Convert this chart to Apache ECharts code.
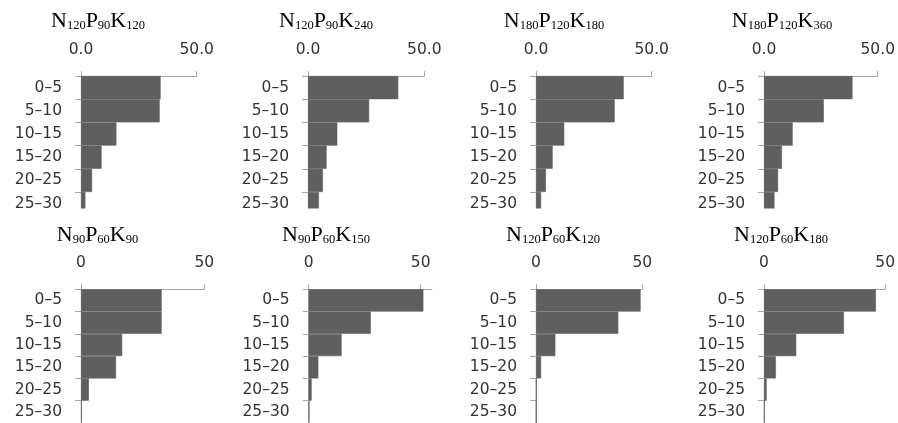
<!DOCTYPE html>
<html>
<head>
<meta charset="utf-8">
<script src="https://cdn.jsdelivr.net/npm/echarts@6/dist/echarts.min.js"></script>
<style>
html,body{margin:0;padding:0;background:#fff;}
#main{width:898px;height:423px;}
</style>
</head>
<body>
<div id="main"></div>
<script>
// ---- data ----
const categories = ['0–5', '5–10', '10–15', '15–20', '20–25', '25–30'];
const nSub = ['120', '120', '180', '180', '90', '90', '120', '120'];
const pSub = ['90', '90', '120', '120', '60', '60', '60', '60'];
const kSub = ['120', '240', '180', '360', '90', '150', '120', '180'];

const n120p90k120 = [34.4, 34.0, 15.3, 8.9, 4.8, 1.9];
const n120p90k240 = [38.8, 26.3, 12.6, 8.0, 6.4, 4.7];
const n180p120k180 = [37.9, 34.0, 12.2, 7.2, 4.3, 2.2];
const n180p120k360 = [38.9, 26.3, 12.6, 7.9, 6.2, 4.6];
const n90p60k90 = [32.7, 32.7, 16.7, 14.2, 3.2, 0.3];
const n90p60k150 = [51.2, 27.7, 14.7, 4.3, 1.3, 0.3];
const n120p60k120 = [49.2, 38.7, 9.1, 2.4, 0.2, 0.1];
const n120p60k180 = [46.2, 33.0, 13.3, 4.9, 1.1, 0.2];

const axisMax = [50, 50, 50, 50, 50, 55, 50, 50];
const tickValues = [0, 50];
const tickLabelsTop = ['0.0', '50.0'];
const tickLabelsBottom = ['0', '50'];

const seriesData = [n120p90k120, n120p90k240, n180p120k180, n180p120k360,
                    n90p60k90, n90p60k150, n120p60k120, n120p60k180];

// ---- layout ----
const gridLeft = [81, 308, 536, 764, 81, 308.7, 536, 764];
const pxPer50 = [115.7, 116.3, 115.7, 115.3, 123.3, 112, 106.3, 122.7];
const rowTop = [76, 289.3];
const bandH = 23.2;
const titleCenter = [98, 326, 554, 782, 97.5, 326, 553, 781];
const titleTop = [8, 222];

const grids = [], xAxes = [], yAxes = [], series = [], titles = [];
const axisColor = '#a6a6a6';
const labelFont = 'DejaVu Sans';

for (let i = 0; i < 8; i++) {
  const row = i < 4 ? 0 : 1;
  const labels = row === 0 ? tickLabelsTop : tickLabelsBottom;
  grids.push({
    left: gridLeft[i],
    top: rowTop[row],
    width: pxPer50[i] / 50 * axisMax[i],
    height: bandH * categories.length,
    containLabel: false
  });
  xAxes.push({
    type: 'value', gridIndex: i, position: 'top',
    min: 0, max: axisMax[i], interval: 50,
    splitLine: { show: false },
    axisLine: { show: true, lineStyle: { color: axisColor, width: 1 } },
    axisTick: { show: true, length: 5, customValues: tickValues, lineStyle: { color: axisColor } },
    axisLabel: {
      customValues: tickValues,
      margin: 18, fontSize: 15.5, fontFamily: labelFont, color: '#333',
      formatter: function (v) { const k = tickValues.indexOf(v); return k >= 0 ? labels[k] : ''; }
    }
  });
  yAxes.push({
    type: 'category', gridIndex: i, inverse: true, data: categories,
    axisLine: { show: true, lineStyle: { color: axisColor, width: 1 } },
    axisTick: { show: true, length: 6, lineStyle: { color: axisColor } },
    axisLabel: { margin: 19, fontSize: 15.5, fontFamily: labelFont, color: '#333' }
  });
  series.push({
    type: 'bar', xAxisIndex: i, yAxisIndex: i, data: seriesData[i],
    barCategoryGap: 0, barGap: 0,
    itemStyle: { color: '#5f5f5f', borderColor: '#5f5f5f', borderWidth: 0.6 },
    silent: true, animation: false
  });
  titles.push({
    text: '{m|N}{s|' + nSub[i] + '}{m|P}{s|' + pSub[i] + '}{m|K}{s|' + kSub[i] + '}',
    left: titleCenter[i], top: titleTop[row], textAlign: 'center', padding: 0,
    textStyle: {
      fontWeight: 'normal',
      rich: {
        m: { fontFamily: 'Liberation Serif', fontWeight: 'normal', fontSize: 22, color: '#000', lineHeight: 24, verticalAlign: 'bottom' },
        s: { fontFamily: 'Liberation Serif', fontWeight: 'normal', fontSize: 12.5, color: '#000', lineHeight: 17, verticalAlign: 'bottom' }
      }
    }
  });
}

const chart = echarts.init(document.getElementById('main'), null, { renderer: 'canvas' });
chart.setOption({
  backgroundColor: '#fff',
  animation: false,
  title: titles,
  grid: grids,
  xAxis: xAxes,
  yAxis: yAxes,
  series: series,
  graphic: [{
    type: 'rect', z: 100, silent: true,
    shape: { x: 0, y: 208.5, width: 898, height: 9 },
    style: { fill: '#fff' }
  }]
});
</script>
</body>
</html>
